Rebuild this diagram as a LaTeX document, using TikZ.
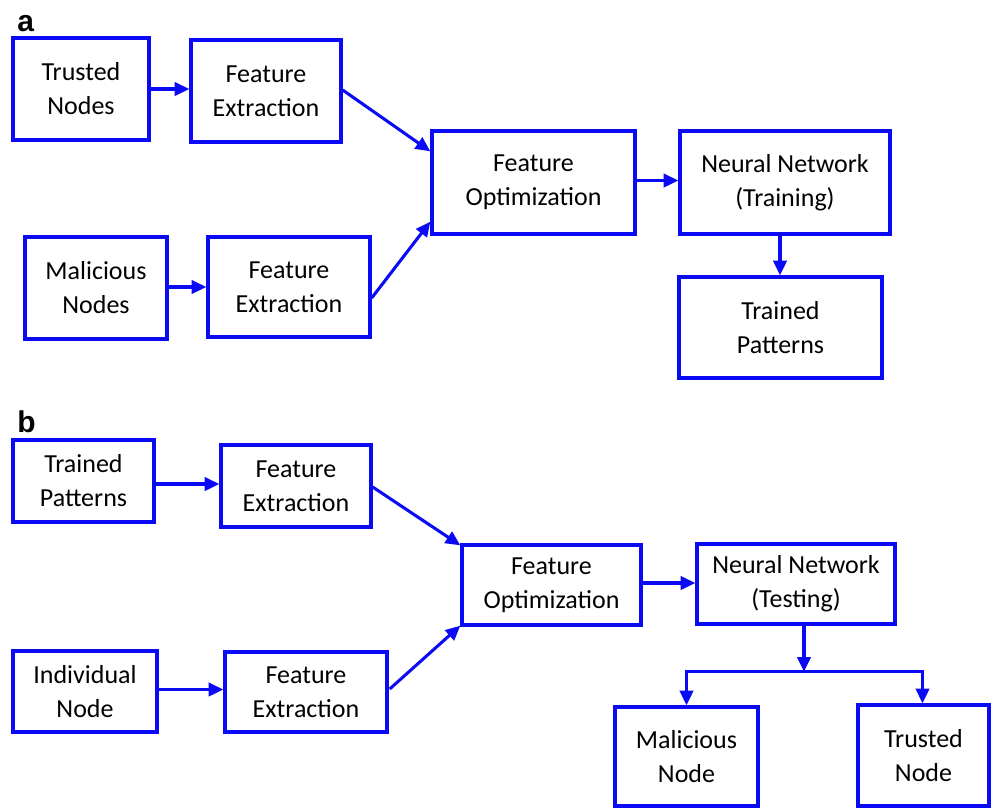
\documentclass[tikz,border=0pt]{standalone}
\usepackage{fontspec}
\setmainfont{Carlito}
\newfontfamily\labelfont{Liberation Sans}
\usetikzlibrary{arrows.meta,calc}
\definecolor{bblue}{RGB}{10,10,245}
\tikzset{
  box/.style={draw=bblue, line width=2.5pt, align=center, inner sep=0pt,
    font=\fontsize{19.5}{25.5}\selectfont},
  arr/.style={draw=bblue, line width=2.3pt, -{Triangle[length=11pt,width=10pt]}},
  ln/.style={draw=bblue, line width=2.3pt},
  panel/.style={font=\labelfont\bfseries\fontsize{22.5}{26}\selectfont, inner sep=0pt}
}
\newcommand\bx[6]{\node[box, minimum width={(#4-#2)*0.75pt}, minimum height={(#5-#3)*0.75pt}] (#1) at ({(#2+#4)/2},{(#3+#5)/2}) {#6};}
\begin{document}
\begin{tikzpicture}[x=0.75pt,y=-0.75pt]
\useasboundingbox (0,0) rectangle (992,808);
% panel a
\node[panel, anchor=south west] (la) at (17,32) {a};
\bx{tn}{13}{38}{149}{140}{Trusted\\Nodes}
\bx{fea}{191}{40}{341}{142}{Feature\\Extraction}
\bx{mn}{25}{237}{167}{339}{Malicious\\Nodes}
\bx{feb}{208}{237}{370}{337}{Feature\\Extraction}
\bx{foa}{432}{131}{635}{234}{Feature\\Optimization}
\bx{nna}{680}{131}{890}{234}{Neural Network\\(Training)}
\bx{tpa}{679}{277}{882}{378}{Trained\\Patterns}
\draw[arr] (tn.east) -- (tn.east -| fea.west);
\draw[arr] ($(fea.east)+(0,-1)$) -- ($(foa.north west)+(0,22)$);
\draw[arr] (feb.west -| mn.east) -- (feb.west);
\draw[arr] ($(feb.east)+(0,11)$) -- ($(foa.south west)+(0,-14)$);
\draw[arr] ($(foa.east)+(0,-2)$) -- ($(nna.west)+(0,-2)$);
\coordinate (nnaout) at ($(nna.south)+(-5,0)$);
\draw[arr] (nnaout) -- (nnaout |- tpa.north);
% panel b
\node[panel, anchor=south west] (lb) at (17,433) {b};
\bx{tpb}{13}{440}{154}{522}{Trained\\Patterns}
\bx{fec}{221}{445}{371}{527}{Feature\\Extraction}
\bx{ind}{13}{651}{157}{732}{Individual\\Node}
\bx{fed}{225}{652}{387}{732}{Feature\\Extraction}
\bx{fob}{462}{545}{641}{625}{Feature\\Optimization}
\bx{nnb}{697}{544}{895}{624}{Neural Network\\(Testing)}
\bx{mal}{615}{707}{758}{806}{Malicious\\Node}
\bx{tru}{858}{705}{989}{806}{Trusted\\Node}
\draw[arr] ($(tpb.east)+(0,3)$) -- ($(tpb.east -| fec.west)+(0,3)$);
\draw[arr] ($(fec.east)+(0,1)$) -- ($(fob.north west)+(0,2)$);
\draw[arr] ($(ind.east)+(0,-2)$) -- ($(ind.east -| fed.west)+(0,-2)$);
\draw[arr] ($(fed.east)+(1,-3)$) -- ($(fob.south west)+(0,-1)$);
\draw[arr] ($(fob.east)+(0,-2)$) -- ($(fob.east -| nnb.west)+(0,-2)$);
\coordinate (split) at ($(nnb.south)+(8,49)$);
\draw[arr] ($(nnb.south)+(8,0)$) -- ($(split)+(0,-3)$);
\draw[ln] ($(mal.north)+(0,-34)$) -- ($(tru.north)+(-1,-32)$);
\draw[arr] ($(mal.north)+(0,-35)$) -- (mal.north);
\draw[arr] ($(tru.north)+(-1,-33)$) -- ($(tru.north)+(-1,0)$);
\end{tikzpicture}
\end{document}
